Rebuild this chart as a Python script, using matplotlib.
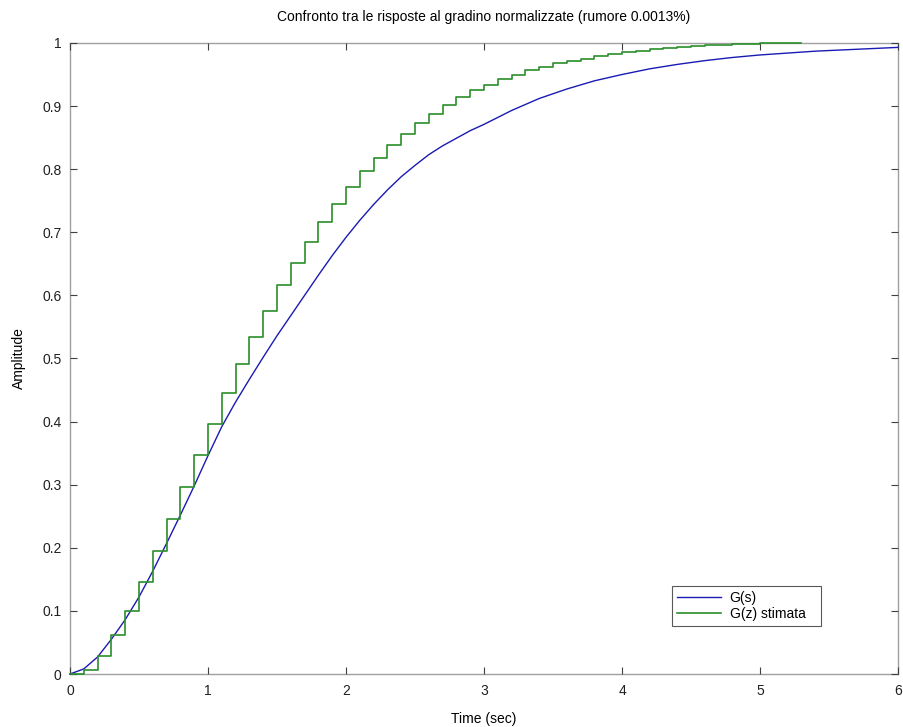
import matplotlib
matplotlib.use('Agg')
import matplotlib.pyplot as plt
import numpy as np

plt.rcParams['font.family'] = ['Liberation Sans', 'DejaVu Sans']

# continuous response G(s)
t_cont = [0.0, 0.1, 0.2, 0.3, 0.4, 0.5, 0.6, 0.7, 0.8, 0.9, 1.0,
          1.1, 1.2, 1.3, 1.4, 1.5, 1.6, 1.7, 1.8, 1.9, 2.0,
          2.1, 2.2, 2.3, 2.4, 2.5, 2.6, 2.7, 2.8, 2.9, 3.0,
          3.2, 3.4, 3.6, 3.8, 4.0, 4.2, 4.4, 4.6, 4.8, 5.0,
          5.2, 5.4, 5.6, 5.8, 6.0]
y_cont = [0.0, 0.008, 0.027, 0.055, 0.086, 0.122, 0.163, 0.207, 0.252, 0.298, 0.346,
          0.392, 0.431, 0.467, 0.502, 0.536, 0.568, 0.600, 0.632, 0.663, 0.692,
          0.719, 0.744, 0.767, 0.788, 0.806, 0.823, 0.837, 0.849, 0.861, 0.871,
          0.893, 0.912, 0.927, 0.940, 0.950, 0.959, 0.966, 0.972, 0.977, 0.981,
          0.984, 0.987, 0.989, 0.991, 0.993]

# estimated discrete response G(z), sample time 0.1 s
Ts = 0.1
y_disc = [0.0, 0.007, 0.028, 0.062, 0.100, 0.146, 0.195, 0.245, 0.296, 0.347,
          0.396, 0.445, 0.492, 0.534, 0.576, 0.616, 0.651, 0.685, 0.717, 0.745,
          0.772, 0.797, 0.818, 0.839, 0.856, 0.873, 0.888, 0.901, 0.914, 0.925,
          0.934, 0.943, 0.950, 0.957, 0.962, 0.968, 0.971, 0.975, 0.979, 0.982,
          0.985, 0.988, 0.990, 0.992, 0.993, 0.995, 0.996, 0.997, 0.998, 0.999,
          1.000, 1.000, 1.000, 1.000]
t_disc = np.arange(len(y_disc)) * Ts

fig = plt.figure(figsize=(9.04, 7.27), dpi=100)
ax = fig.add_axes([0.0774, 0.0729, 0.916, 0.868])

for sp in ax.spines.values():
    sp.set_color('#a0a0a0')
    sp.set_linewidth(1.0)
    sp.set_zorder(1)

ax.plot(t_cont, y_cont, color='#1a1ab4', linewidth=1.0, label='G(s)',
        clip_on=False, zorder=3)
ax.step(t_disc, y_disc, where='post', color='#2a8f2a', linewidth=1.2,
        label='G(z) stimata', clip_on=False, zorder=3)

ax.set_xlim(0, 6)
ax.set_ylim(0, 1)
ax.set_xticks(np.arange(0, 7, 1))
ax.set_yticks(np.arange(0, 1.01, 0.1))
ax.set_yticklabels(['0', '0.1', '0.2', '0.3', '0.4', '0.5', '0.6', '0.7', '0.8', '0.9', '1'])
ax.tick_params(direction='in', top=True, right=True, length=5, width=0.8,
               color='#404040', labelsize=10, labelcolor='#202020')
ax.tick_params(axis='x', pad=7)
ax.tick_params(axis='y', pad=6)

ax.set_title('Confronto tra le risposte al gradino normalizzate (rumore 0.0013%)',
             fontsize=10, pad=16)
ax.set_xlabel('Time (sec)', fontsize=10, labelpad=10)
ax.set_ylabel('Amplitude', fontsize=10, labelpad=12)

leg = ax.legend(loc='lower left', bbox_to_anchor=(0.727, 0.076, 0.18, 0.068),
                mode='expand', fontsize=10, frameon=True, fancybox=False,
                handlelength=3.2, borderpad=0.35, labelspacing=0.15,
                borderaxespad=0, handletextpad=0.6)
leg.get_frame().set_edgecolor('#303030')
leg.get_frame().set_linewidth(0.8)

fig.savefig('out.png', dpi=100)
